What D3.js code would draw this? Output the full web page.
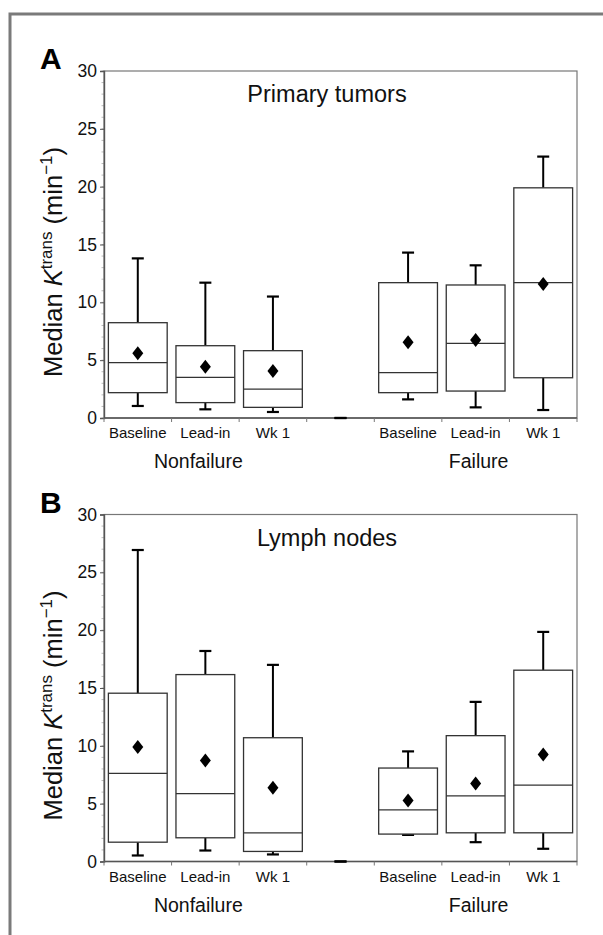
<!DOCTYPE html>
<html>
<head>
<meta charset="utf-8">
<script src="https://cdn.jsdelivr.net/npm/d3@7"></script>
<style>
  body { margin: 0; background: #fff; }
  svg { display: block; font-family: "Liberation Sans", Arial, Helvetica, sans-serif; }
</style>
</head>
<body>
<svg id="chart" width="603" height="935"></svg>
<script>
// categories (one empty spacer slot between the two groups)
var slots = ["NF-Baseline", "NF-Lead-in", "NF-Wk 1", "gap", "F-Baseline", "F-Lead-in", "F-Wk 1"];
var slotLabels = ["Baseline", "Lead-in", "Wk 1", "", "Baseline", "Lead-in", "Wk 1"];
var groupLabels = ["Nonfailure", "Failure"];
var yTicks = [0, 5, 10, 15, 20, 25, 30];

// A: primary tumors
var tumorLow    = [1.04, 0.75, 0.52, 0, 1.61, 0.92, 0.69];
var tumorQ1     = [2.19, 1.33, 0.92, 0, 2.19, 2.33, 3.48];
var tumorMedian = [4.78, 3.51, 2.50, 0, 3.92, 6.45, 11.7];
var tumorQ3     = [8.24, 6.25, 5.82, 0, 11.7, 11.5, 19.9];
var tumorHigh   = [13.8, 11.7, 10.5, 0, 14.3, 13.2, 22.6];
var tumorMean   = [5.59, 4.44, 4.06, null, 6.54, 6.74, 11.58];

// B: lymph nodes
var nodeLow    = [0.52, 0.95, 0.61, 0, 2.30, 1.67, 1.10];
var nodeQ1     = [1.67, 2.05, 0.87, 0, 2.37, 2.48, 2.48];
var nodeMedian = [7.62, 5.86, 2.48, 0, 4.47, 5.68, 6.60];
var nodeQ3     = [14.55, 16.16, 10.7, 0, 8.08, 10.88, 16.54];
var nodeHigh   = [26.93, 18.2, 17.0, 0, 9.52, 13.8, 19.85];
var nodeMean   = [9.9, 8.74, 6.38, null, 5.28, 6.75, 9.26];

var svg = d3.select("#chart");

// outer frame of the figure
svg.append("rect")
  .attr("x", 10).attr("y", 14)
  .attr("width", 700).attr("height", 1000)
  .attr("fill", "none")
  .attr("stroke", "#7a7a7a")
  .attr("stroke-width", 3);

var plotLeft = 104, plotRight = 577, plotH = 347;

function drawPanel(top, letter, title, low, q1, med, q3, high, mean){
	var x = d3.scaleBand().domain(slots).range([plotLeft, plotRight]);
	var y = d3.scaleLinear().domain([0, 30]).range([top + plotH, top]);
	var bw = x.bandwidth() * 0.87;
	var g = svg.append("g");

	// minor ticks
	g.selectAll(".minor").data(d3.range(0, 31, 1)).enter().append("line")
		.attr("x1", plotLeft - 2.5).attr("x2", plotLeft)
		.attr("y1", function(d){ return y(d); })
		.attr("y2", function(d){ return y(d); })
		.attr("stroke", "#aaa").attr("stroke-width", 0.8);

	// plot frame (top and right lighter)
	g.append("rect")
		.attr("x", plotLeft).attr("y", y(30))
		.attr("width", plotRight - plotLeft).attr("height", y(0) - y(30))
		.attr("fill", "none").attr("stroke", "#777").attr("stroke-width", 1.2);

	var yAxis = d3.axisLeft(y).tickValues(yTicks).tickSize(4).tickPadding(3);
	var ya = g.append("g").attr("transform", "translate(" + plotLeft + ",0)").call(yAxis);
	ya.select(".domain").attr("stroke", "#555").attr("stroke-width", 1.4);
	ya.selectAll(".tick line").attr("stroke", "#555");
	ya.selectAll("text").attr("font-size", 17.5).attr("fill", "#111")
		.attr("font-family", "'Liberation Sans', Arial, sans-serif");

	// bottom axis line and slot boundary ticks
	g.append("line")
		.attr("x1", plotLeft).attr("x2", plotRight)
		.attr("y1", y(0)).attr("y2", y(0))
		.attr("stroke", "#555").attr("stroke-width", 1.4);
	var bounds = slots.map(function(s){ return x(s); }).concat([plotRight]);
	g.selectAll(".xt").data(bounds).enter().append("line")
		.attr("x1", function(d){ return d; }).attr("x2", function(d){ return d; })
		.attr("y1", y(0)).attr("y2", y(0) + 4)
		.attr("stroke", "#777").attr("stroke-width", 1);

	// category labels
	g.selectAll(".cat").data(slots).enter().append("text")
		.attr("x", function(d){ return x(d) + x.bandwidth() / 2; })
		.attr("y", y(0) + 20)
		.attr("text-anchor", "middle")
		.attr("font-size", 15).attr("fill", "#111")
		.text(function(d, i){ return slotLabels[i]; });

	// group labels
	g.append("text")
		.attr("x", x("NF-Lead-in") + x.bandwidth() / 2 - 7)
		.attr("y", y(0) + 50)
		.attr("text-anchor", "middle").attr("font-size", 19.5).attr("fill", "#111")
		.text(groupLabels[0]);
	g.append("text")
		.attr("x", x("F-Lead-in") + x.bandwidth() / 2 + 3)
		.attr("y", y(0) + 50)
		.attr("text-anchor", "middle").attr("font-size", 19.5).attr("fill", "#111")
		.text(groupLabels[1]);

	// panel title and letter
	g.append("text")
		.attr("x", 327).attr("y", top + 31)
		.attr("text-anchor", "middle").attr("font-size", 23.5).attr("fill", "#111")
		.text(title);
	g.append("text")
		.attr("x", 40).attr("y", top - 2)
		.attr("font-size", 30).attr("font-weight", "bold").attr("fill", "#000")
		.text(letter);

	// y axis title
	var yt = g.append("text")
		.attr("transform", "translate(62," + (top + 191) + ") rotate(-90)")
		.attr("text-anchor", "middle").attr("font-size", 25.5).attr("fill", "#111");
	yt.append("tspan").text("Median ");
	yt.append("tspan").attr("font-style", "italic").text("K");
	yt.append("tspan").attr("font-size", 17).attr("dy", -10).text("trans");
	yt.append("tspan").attr("dy", 10).text(" (min");
	yt.append("tspan").attr("font-size", 17).attr("dy", -10).text("\u22121");
	yt.append("tspan").attr("dy", 10).text(")");

	var rows = slots.map(function(s, i){
		return {slot: s, low: low[i], q1: q1[i], med: med[i], q3: q3[i], high: high[i], mean: mean[i]};
	});
	var cx = function(d){ return x(d.slot) + x.bandwidth() / 2; };

	// whiskers
	g.selectAll(".wu").data(rows).enter().append("line")
		.attr("x1", cx).attr("x2", cx)
		.attr("y1", function(d){ return y(d.q3); })
		.attr("y2", function(d){ return y(d.high); })
		.attr("stroke", "#000").attr("stroke-width", 2);
	g.selectAll(".wl").data(rows).enter().append("line")
		.attr("x1", cx).attr("x2", cx)
		.attr("y1", function(d){ return y(d.q1); })
		.attr("y2", function(d){ return y(d.low); })
		.attr("stroke", "#000").attr("stroke-width", 2);
	[["high"], ["low"]].forEach(function(k){
		g.selectAll(".cap-" + k[0]).data(rows).enter().append("line")
			.attr("x1", function(d){ return cx(d) - 6; })
			.attr("x2", function(d){ return cx(d) + 6; })
			.attr("y1", function(d){ return y(d[k[0]]); })
			.attr("y2", function(d){ return y(d[k[0]]); })
			.attr("stroke", "#000").attr("stroke-width", 2.2);
	});

	// boxes
	var boxes = rows.filter(function(d){ return d.q3 > d.q1; });
	g.selectAll(".box").data(boxes).enter().append("rect")
		.attr("x", function(d){ return cx(d) - bw / 2; })
		.attr("y", function(d){ return y(d.q3); })
		.attr("width", bw)
		.attr("height", function(d){ return y(d.q1) - y(d.q3); })
		.attr("fill", "#fff").attr("stroke", "#333").attr("stroke-width", 1.3);
	g.selectAll(".med").data(boxes).enter().append("line")
		.attr("x1", function(d){ return cx(d) - bw / 2; })
		.attr("x2", function(d){ return cx(d) + bw / 2; })
		.attr("y1", function(d){ return y(d.med); })
		.attr("y2", function(d){ return y(d.med); })
		.attr("stroke", "#333").attr("stroke-width", 1.3);

	// means (diamonds)
	g.selectAll(".mean").data(rows.filter(function(d){ return d.mean != null; })).enter().append("path")
		.attr("d", function(d){
			var px = cx(d), py = y(d.mean);
			return "M" + px + "," + (py - 7) + "L" + (px + 5.5) + "," + py +
				"L" + px + "," + (py + 7) + "L" + (px - 5.5) + "," + py + "Z";
		})
		.attr("fill", "#000");
}

drawPanel(71, "A", "Primary tumors", tumorLow, tumorQ1, tumorMedian, tumorQ3, tumorHigh, tumorMean);
drawPanel(514.5, "B", "Lymph nodes", nodeLow, nodeQ1, nodeMedian, nodeQ3, nodeHigh, nodeMean);
</script>
</body>
</html>
